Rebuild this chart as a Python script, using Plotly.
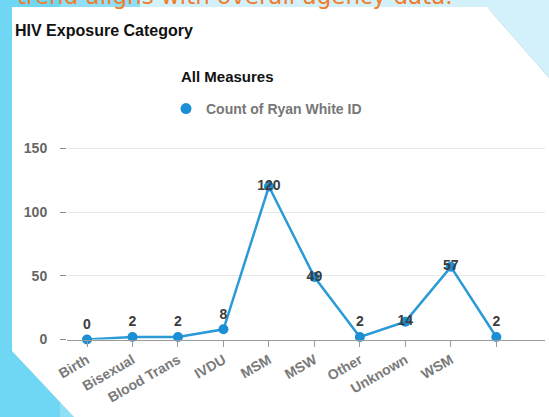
import plotly.graph_objects as go

# Exposure categories and counts
categories = ["Birth", "Bisexual", "Blood Trans", "IVDU", "MSM", "MSW",
              "Other", "Unknown", "WSM", ""]
counts = [0, 2, 2, 8, 120, 49, 2, 14, 57, 2]
label_positions = ["top center", "top center", "top center", "top center",
                   "middle center", "middle center", "top center",
                   "middle center", "middle center", "top center"]
y_ticks = [0, 50, 100, 150]
series_name = "Count of Ryan White ID"

W, H = 549, 417
FONT = "Liberation Sans, Arial, sans-serif"
LINE_BLUE = "#2b9ad6"
DOT_BLUE = "#1a8fd3"


def px(x):
    return x / W


def py(y):
    return 1 - y / H


def path(points):
    return "M " + " L ".join(f"{px(a):.5f},{py(b):.5f}" for a, b in points) + " Z"


x_idx = list(range(len(categories)))

fig = go.Figure()
fig.add_trace(go.Scatter(
    x=x_idx, y=counts,
    mode="lines+markers+text",
    name=series_name, showlegend=False,
    line=dict(color=LINE_BLUE, width=2.5),
    marker=dict(color=DOT_BLUE, size=10),
    text=[str(v) for v in counts],
    textposition=label_positions,
    textfont=dict(family=FONT, size=14, color="#3c3c3c", weight="bold"),
    cliponaxis=False,
))
# legend entry shows the dot only
fig.add_trace(go.Scatter(
    x=[None], y=[None], mode="markers", name=series_name,
    marker=dict(color=DOT_BLUE, size=11),
))

# slide background, panel shadow and white panel
panel = [(12, 7), (487, 7), (549, 78), (549, 417), (74, 417), (12, 351)]
shadow = [(a + 2, b + 2) for a, b in panel]
shapes = [
    dict(type="rect", xref="paper", yref="paper", x0=0, x1=1, y0=0, y1=1,
         fillcolor="#d3f1fa", line_width=0, layer="below"),
    dict(type="rect", xref="paper", yref="paper", x0=0, x1=px(140), y0=0, y1=1,
         fillcolor="#8fdff6", line_width=0, layer="below"),
    dict(type="rect", xref="paper", yref="paper", x0=0, x1=px(60), y0=0, y1=1,
         fillcolor="#6fd7f4", line_width=0, layer="below"),
    dict(type="path", xref="paper", yref="paper", path=path(shadow),
         fillcolor="rgba(80,100,110,0.35)", line_width=0, layer="below"),
    dict(type="path", xref="paper", yref="paper", path=path(panel),
         fillcolor="#ffffff", line_width=0, layer="below"),
]

annotations = [
    dict(text="trend aligns with overall agency data.", x=px(15), y=py(11),
         xref="paper", yref="paper", xanchor="left", yanchor="bottom",
         showarrow=False, font=dict(family="DejaVu Sans", size=23, color="#f07d2c")),
    dict(text="HIV Exposure Category", x=px(13), y=py(30),
         xref="paper", yref="paper", xanchor="left", yanchor="middle",
         showarrow=False, font=dict(family=FONT, size=16, color="#111111", weight="bold")),
    dict(text="All Measures", x=px(179), y=py(77),
         xref="paper", yref="paper", xanchor="left", yanchor="middle",
         showarrow=False, font=dict(family=FONT, size=15, color="#111111", weight="bold")),
]

fig.update_layout(
    template="none",
    width=W, height=H,
    margin=dict(l=0, r=0, t=0, b=0, pad=0),
    paper_bgcolor="#d3f1fa",
    plot_bgcolor="rgba(0,0,0,0)",
    shapes=shapes,
    annotations=annotations,
    showlegend=True,
    legend=dict(x=px(166), y=py(93), xanchor="left", yanchor="top",
                bgcolor="rgba(0,0,0,0)", borderwidth=0, itemwidth=30,
                font=dict(family=FONT, size=14, color="#777777", weight="bold")),
    xaxis=dict(
        domain=[px(67), px(545)], range=[-0.44, 10.07],
        tickvals=x_idx, ticktext=categories, tickangle=-30,
        ticks="outside", ticklen=6, tickcolor="#9a9a9a", tickwidth=1,
        showline=True, linecolor="#9a9a9a", linewidth=1,
        showgrid=False, zeroline=False, automargin=False,
        tickfont=dict(family=FONT, size=14, color="#7a7a7a", weight="bold"),
    ),
    yaxis=dict(
        domain=[py(339.5), py(135.5)], range=[0, 160],
        tickvals=y_ticks, ticks="outside", ticklen=6, tickcolor="#8a8a8a",
        tickwidth=1, ticklabelstandoff=10,
        showgrid=True, gridcolor="#e8e8e8", gridwidth=1,
        zeroline=False, showline=False, automargin=False,
        tickfont=dict(family=FONT, size=14, color="#666666", weight="bold"),
    ),
)

fig.write_html("out.html")
